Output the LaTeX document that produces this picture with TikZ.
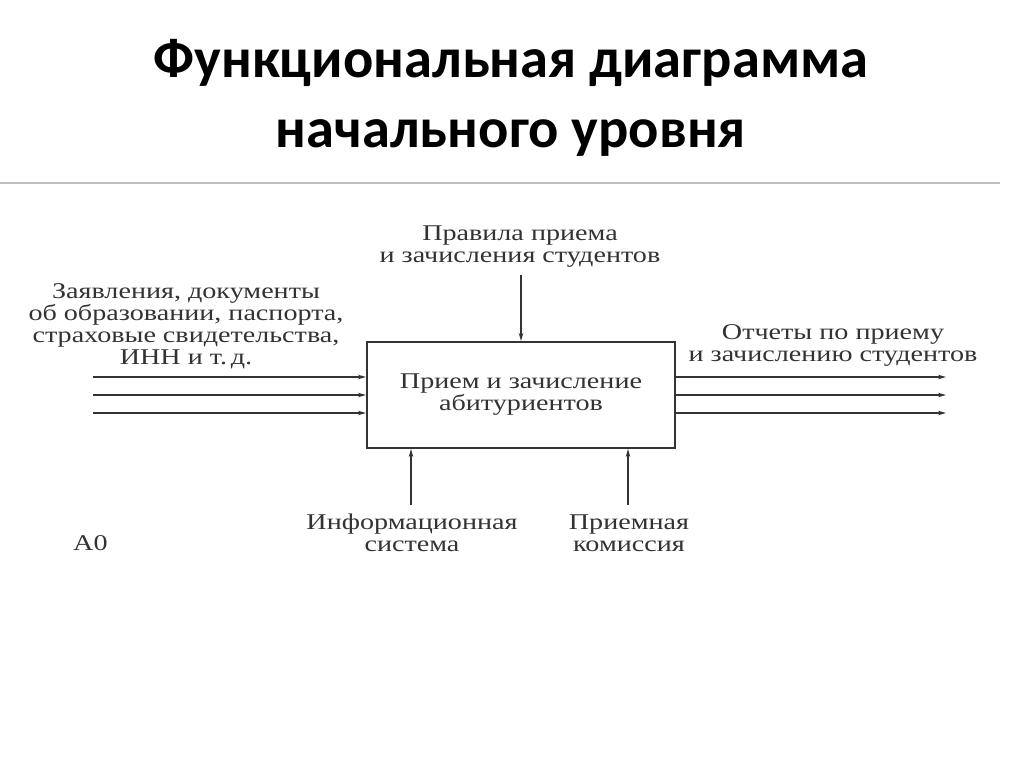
\documentclass[tikz,border=0pt]{standalone}
\usepackage{fontspec}
\setmainfont{Liberation Serif}
\newfontfamily\titlefont{Carlito}
\newfontfamily\labelfont[FakeStretch=1.25]{Liberation Serif}
\usepackage{tikz}
\usetikzlibrary{arrows.meta}
\usetikzlibrary{calc}

\tikzset{
    flow/.style={line width=1.4pt, draw=black!80, -{Stealth[length=8pt,width=4.5pt]}},
    lbl/.style={align=center, inner sep=0pt, text=black!80, font=\labelfont\fontsize{22.5}{22}\selectfont},
    funcbox/.style={draw=black!80, line width=2pt, minimum width=308pt, minimum height=106pt,
        inner sep=0pt, align=center, text=black!80, font=\labelfont\fontsize{22.5}{22}\selectfont},
    titletext/.style={anchor=base, inner sep=0pt, font=\titlefont\bfseries\fontsize{56.5}{64}\selectfont}
}

\begin{document}
\begin{tikzpicture}[x=1pt,y=-1pt]
    \useasboundingbox (0,0) rectangle (1024,767);
    \fill[white] (0,0) rectangle (1024,767);

    % Title
    \node (title1) [titletext] at (511,78) {Функциональная диаграмма};
    \node (title2) [titletext] at (511,148) {начального уровня};
    \draw[black!25, line width=2pt] (0,183) -- (1000,183);

    % Function block
    \node (box) [funcbox] at (521,395) {Прием и зачисление\\абитуриентов};

    % Inputs
    \coordinate (in1) at (93,377);
    \coordinate (in2) at (93,395);
    \coordinate (in3) at (93,413);
    \foreach \i in {1,2,3}
        \draw[flow] (in\i) -- (in\i -| box.west);
    \node (inlbl) [lbl] at (186,326) {Заявления, документы\\об образовании, паспорта,\\страховые свидетельства,\\ИНН и т.\,д.};

    % Outputs
    \coordinate (out1) at (946,377);
    \coordinate (out2) at (946,395);
    \coordinate (out3) at (946,413);
    \foreach \i in {1,2,3}
        \draw[flow] (out\i -| box.east) -- (out\i);
    \node (outlbl) [lbl] at (833,345) {Отчеты по приему\\и зачислению студентов};

    % Control
    \node (ctrl) [lbl] at (520,247) {Правила приема\\и зачисления студентов};
    \coordinate (ctrltop) at (521,275);
    \draw[flow] (ctrltop) -- (ctrltop |- box.north);

    % Mechanisms
    \node (mech1) [lbl] at (412,533) {Информационная\\система};
    \node (mech2) [lbl] at (629,533) {Приемная\\комиссия};
    \coordinate (m1) at (411,505);
    \coordinate (m2) at (628,505);
    \draw[flow] (m1) -- (m1 |- box.south);
    \draw[flow] (m2) -- (m2 |- box.south);

    \node (diagid) [lbl, anchor=west] at (73,543) {A0};
\end{tikzpicture}
\end{document}
